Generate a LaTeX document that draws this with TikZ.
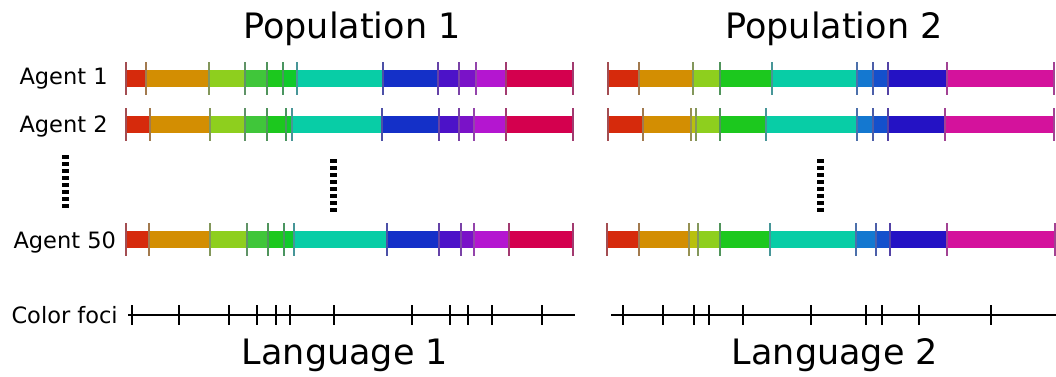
\documentclass[tikz,border=0pt]{standalone}
\usepackage{fontspec}
\setmainfont{DejaVu Sans}

\definecolor{segred}{HTML}{D62A0C}
\definecolor{segorange}{HTML}{D38E02}
\definecolor{segyellow}{HTML}{B8C00E}
\definecolor{segygreen}{HTML}{8ECF1E}
\definecolor{seggreenA}{HTML}{40C63A}
\definecolor{seggreenB}{HTML}{1CC81E}
\definecolor{seggreenC}{HTML}{10CA2A}
\definecolor{segteal}{HTML}{08CDA6}
\definecolor{seglblue}{HTML}{1478D0}
\definecolor{segmblue}{HTML}{1450CC}
\definecolor{segblue}{HTML}{1430C8}
\definecolor{segdblue}{HTML}{2412C4}
\definecolor{segindigo}{HTML}{4C12C8}
\definecolor{segviolet}{HTML}{7A12C8}
\definecolor{segpurple}{HTML}{B416D0}
\definecolor{segcrimson}{HTML}{D4004E}
\definecolor{segmagenta}{HTML}{D4129C}
\definecolor{tickgray}{HTML}{7A6A8C}

% one agent's colour bar: #1 = top edge, #2 = list of from/to/colour
\newcommand{\agentbar}[2]{%
  \foreach \xa/\xb/\col in {#2} {
    \fill[\col] (\xa,#1) rectangle (\xb,#1+17);
  }
  \foreach \xa/\xb/\col in {#2} {
    \draw[border,\col!45!tickgray] (\xa,#1-8) -- (\xa,#1+25);
    \draw[border,\col!45!tickgray] (\xb,#1-8) -- (\xb,#1+25);
  }}

\begin{document}
\begin{tikzpicture}[x=1pt,y=-1pt,line cap=butt,
  border/.style={line width=1.3pt},
  axis/.style={line width=2pt,black},
  focus/.style={line width=2.8pt,black},
  vdots/.style={line width=7pt,black,dash pattern=on 3.8pt off 3.2pt},
  title/.style={font=\fontsize{35}{40}\selectfont,anchor=base},
  agent/.style={font=\fontsize{22.5}{26}\selectfont,anchor=base west}]
\useasboundingbox (0,0) rectangle (1056,376);

% titles
\node[title] (pop1) at (352,38) {Population 1};
\node[title] (pop2) at (834,38) {Population 2};
\node[title] (lang1) at (345,364) {Language 1};
\node[title] (lang2) at (835,364) {Language 2};

% row labels
\node[agent] (ag1) at (16,84) {Agent 1};
\node[agent] (ag2) at (16,132) {Agent 2};
\node[agent] (ag50) at (10,248) {Agent 50};
\node[agent] (foci) at (8,323) {Color foci};

% population 1
\agentbar{70}{126/146/segred,146/209/segorange,209/245/segygreen,245/267/seggreenA,267/283/seggreenB,283/297/seggreenC,297/383/segteal,383/438/segblue,438/459/segindigo,459/476/segviolet,476/506/segpurple,506/573/segcrimson}
\agentbar{116}{126/150/segred,150/210/segorange,210/245/segygreen,245/267/seggreenA,267/286/seggreenB,286/292/seggreenC,292/382/segteal,382/439/segblue,439/459/segindigo,459/474/segviolet,474/506/segpurple,506/573/segcrimson}
\agentbar{231}{126/149/segred,149/210/segorange,210/247/segygreen,247/268/seggreenA,268/284/seggreenB,284/294/seggreenC,294/387/segteal,387/439/segblue,439/461/segindigo,461/474/segviolet,474/509/segpurple,509/573/segcrimson}

% population 2
\agentbar{70}{608/639/segred,639/693/segorange,693/720/segygreen,720/772/seggreenB,772/857/segteal,857/873/seglblue,873/888/segmblue,888/947/segdblue,947/1054/segmagenta}
\agentbar{116}{608/643/segred,643/691/segorange,691/696/segyellow,696/720/segygreen,720/766/seggreenB,766/857/segteal,857/873/seglblue,873/888/segmblue,888/945/segdblue,945/1054/segmagenta}
\agentbar{231}{607/639/segred,639/689/segorange,689/698/segyellow,698/720/segygreen,720/770/seggreenB,770/856/segteal,856/876/seglblue,876/890/segmblue,890/947/segdblue,947/1055/segmagenta}

% skipped agents
\coordinate (d1a) at (65,155);
\coordinate (d1b) at (65,209);
\coordinate (d2a) at (333,159);
\coordinate (d2b) at (333,213);
\coordinate (d3a) at (820,159);
\coordinate (d3b) at (820,213);
\draw[vdots] (d1a) -- (d1b);
\draw[vdots] (d2a) -- (d2b);
\draw[vdots] (d3a) -- (d3b);

% colour foci
\coordinate (f1s) at (128,315);
\coordinate (f1e) at (575,315);
\coordinate (f2s) at (611,315);
\coordinate (f2e) at (1056,315);
\draw[axis] (f1s) -- (f1e);
\draw[axis] (f2s) -- (f2e);
\foreach \x in {132,179,229,257,276,290,334,412,450,468,492,542}
  \draw[focus] (\x,305) -- (\x,325);
\foreach \x in {623,663,694,709,743,811,866,882,919,991}
  \draw[focus] (\x,305) -- (\x,325);
\end{tikzpicture}
\end{document}
